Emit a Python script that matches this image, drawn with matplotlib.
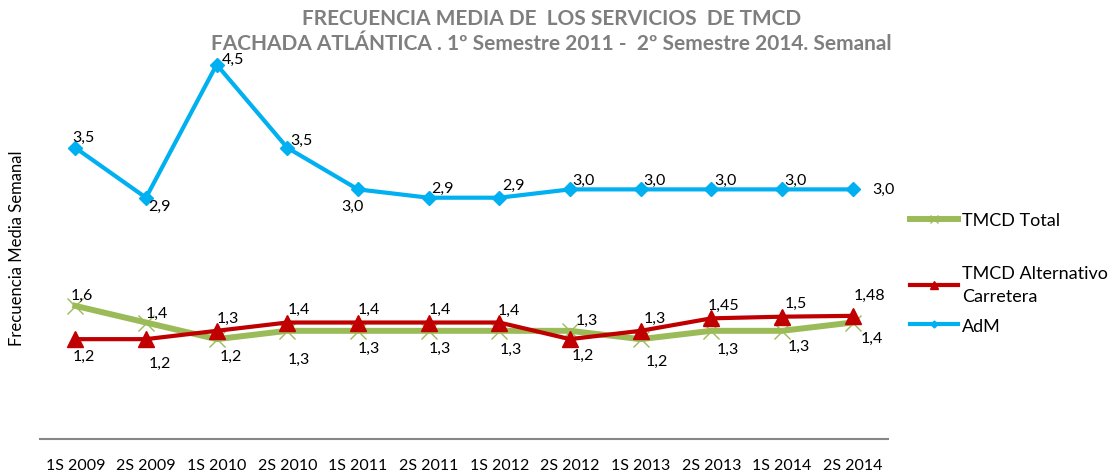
import matplotlib.pyplot as plt

plt.rcParams['font.family'] = ['Lato', 'DejaVu Sans']

categories = ['1S 2009', '2S 2009', '1S 2010', '2S 2010', '1S 2011', '2S 2011',
              '1S 2012', '2S 2012', '1S 2013', '2S 2013', '1S 2014', '2S 2014']

tmcd_total = [1.6, 1.4, 1.2, 1.3, 1.3, 1.3, 1.3, 1.3, 1.2, 1.3, 1.3, 1.4]
tmcd_alt = [1.2, 1.2, 1.3, 1.4, 1.4, 1.4, 1.4, 1.2, 1.3, 1.45, 1.47, 1.48]
adm = [3.5, 2.9, 4.5, 3.5, 3.0, 2.9, 2.9, 3.0, 3.0, 3.0, 3.0, 3.0]

total_labels = ['1,6', '1,4', '1,2', '1,3', '1,3', '1,3', '1,3', '1,3', '1,2', '1,3', '1,3', '1,4']
alt_labels = ['1,2', '1,2', '1,3', '1,4', '1,4', '1,4', '1,4', '1,2', '1,3', '1,45', '1,5', '1,48']
adm_labels = ['3,5', '2,9', '4,5', '3,5', '3,0', '2,9', '2,9', '3,0', '3,0', '3,0', '3,0', '3,0']

# label offsets in points (dx, dy)
total_off = [(5, 8), (8, 7), (10, -12), (8, -20), (8, -12), (8, -12), (8, -13),
             (12, 8), (12, -16), (12, -13), (12, -11), (14, -11)]
alt_off = [(6, -12), (10, -17), (8, 9), (8, 10), (8, 10), (8, 10), (7, 9),
           (9, -11), (10, 9), (9, 10), (10, 10), (12, 15)]
adm_off = [(6, 8), (10, -6), (12, 4), (10, 6), (-4, -12), (10, 7), (10, 9),
           (10, 7), (10, 7), (10, 7), (10, 7), (22, 0)]

fig = plt.figure(figsize=(11.08, 4.77), dpi=100)
ax = fig.add_axes([0.0361, 0.0776, 0.7653, 0.8721])

x = list(range(len(categories)))
l1, = ax.plot(x, tmcd_total, color='#9BBB59', lw=4.3, marker='x', ms=11,
              mew=1.0, label='TMCD Total', zorder=2)
l2, = ax.plot(x, tmcd_alt, color='#C00000', lw=3, marker='^', ms=12,
              label='TMCD Alternativo\nCarretera', zorder=3)
l3, = ax.plot(x, adm, color='#00B0F0', lw=3, marker='D', ms=7,
              label='AdM', zorder=3)

for vals, labs, offs in [(tmcd_total, total_labels, total_off),
                         (tmcd_alt, alt_labels, alt_off),
                         (adm, adm_labels, adm_off)]:
    for i, (v, t, o) in enumerate(zip(vals, labs, offs)):
        ax.annotate(t, (i, v), xytext=o, textcoords='offset points',
                    ha='center', va='center', fontsize=11.5, zorder=5)

ax.set_xlim(-0.5, len(categories) - 0.5)
ax.set_ylim(0, 5)
ax.set_xticks(x)
ax.set_xticklabels(categories, fontsize=11.5)
ax.tick_params(axis='x', length=0, pad=14)
ax.set_yticks([])
for s in ['top', 'right', 'left']:
    ax.spines[s].set_visible(False)
ax.spines['bottom'].set_color('#868686')
ax.spines['bottom'].set_linewidth(1.5)

fig.text(0.498, 0.934, 'FRECUENCIA MEDIA DE  LOS SERVICIOS  DE TMCD\nFACHADA ATLÁNTICA . 1º Semestre 2011 -  2º Semestre 2014. Semanal',
         ha='center', va='center', fontsize=15, fontweight='bold',
         color='#7F7F7F', linespacing=1.3)
fig.text(0.015, 0.48, 'Frecuencia Media Semanal', rotation=90, ha='center',
         va='center', fontsize=12)

leg1 = fig.legend(handles=[l1], loc='center left',
                  bbox_to_anchor=(0.821, 1 - 221 / 477), frameon=False,
                  fontsize=13, handlelength=2.7, handletextpad=0.2,
                  markerscale=0.5, borderpad=0, borderaxespad=0)
leg2 = fig.legend(handles=[l2, l3], loc='upper left',
                  bbox_to_anchor=(0.821, 1 - 266 / 477), frameon=False,
                  fontsize=13, handlelength=2.7, handletextpad=0.2,
                  labelspacing=0.75, markerscale=0.5, borderpad=0,
                  borderaxespad=0)
leg2.get_texts()[0].set_linespacing(1.55)

fig.savefig('out.png', dpi=100)
